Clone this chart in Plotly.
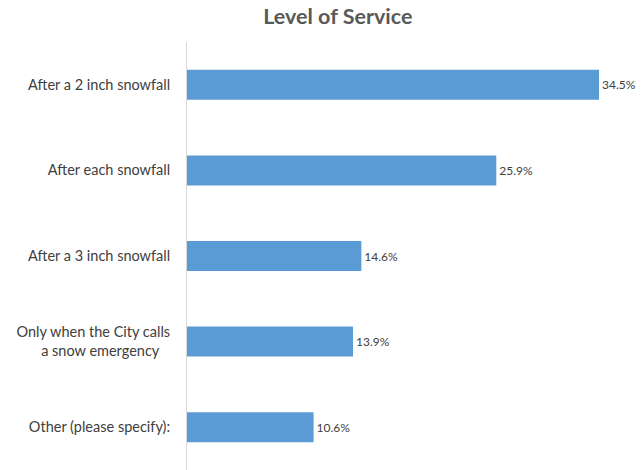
import plotly.graph_objects as go

# survey responses, top to bottom as shown
categories = [
    "After a 2 inch snowfall",
    "After each snowfall",
    "After a 3 inch snowfall",
    "Only when the City calls<br>a snow emergency\u00a0\u00a0\u00a0",
    "Other (please specify):",
]
shares = [34.5, 25.9, 14.6, 13.9, 10.6]
value_labels = ["34.5%", "25.9%", "14.6%", "13.9%", "10.6%"]

FONT = "Lato, Open Sans, sans-serif"

fig = go.Figure(
    go.Bar(
        x=shares,
        y=categories,
        orientation="h",
        marker=dict(color="#5B9BD5", line=dict(width=0)),
        width=0.35,
        text=value_labels,
        textposition="outside",
        constraintext="none",
        textfont=dict(size=12, color="#404040", family=FONT),
        cliponaxis=False,
        hoverinfo="skip",
    )
)

fig.update_layout(
    width=641,
    height=470,
    margin=dict(l=187, r=42, t=42, b=0, autoexpand=False),
    paper_bgcolor="white",
    plot_bgcolor="white",
    showlegend=False,
    title=dict(
        text="<b>Level of Service</b>",
        x=0.527,
        xanchor="center",
        y=0.964,
        yanchor="middle",
        font=dict(size=21.5, color="#595959", family=FONT),
    ),
    font=dict(family=FONT, color="#404040"),
)
fig.update_xaxes(range=[0, 34.5], visible=False, showgrid=False, zeroline=False,
                 automargin=False)
fig.update_yaxes(
    autorange="reversed",
    automargin=False,
    showline=True,
    linecolor="#D9D9D9",
    linewidth=1,
    showgrid=False,
    ticks="",
    ticklabelstandoff=13,
    tickfont=dict(size=14.5, color="#404040"),
)

# drop the default 8px body margin so the figure fills the window exactly
fig.write_html(
    "out.html",
    config={"displayModeBar": False},
    post_script="document.body.style.margin = '0';",
)
